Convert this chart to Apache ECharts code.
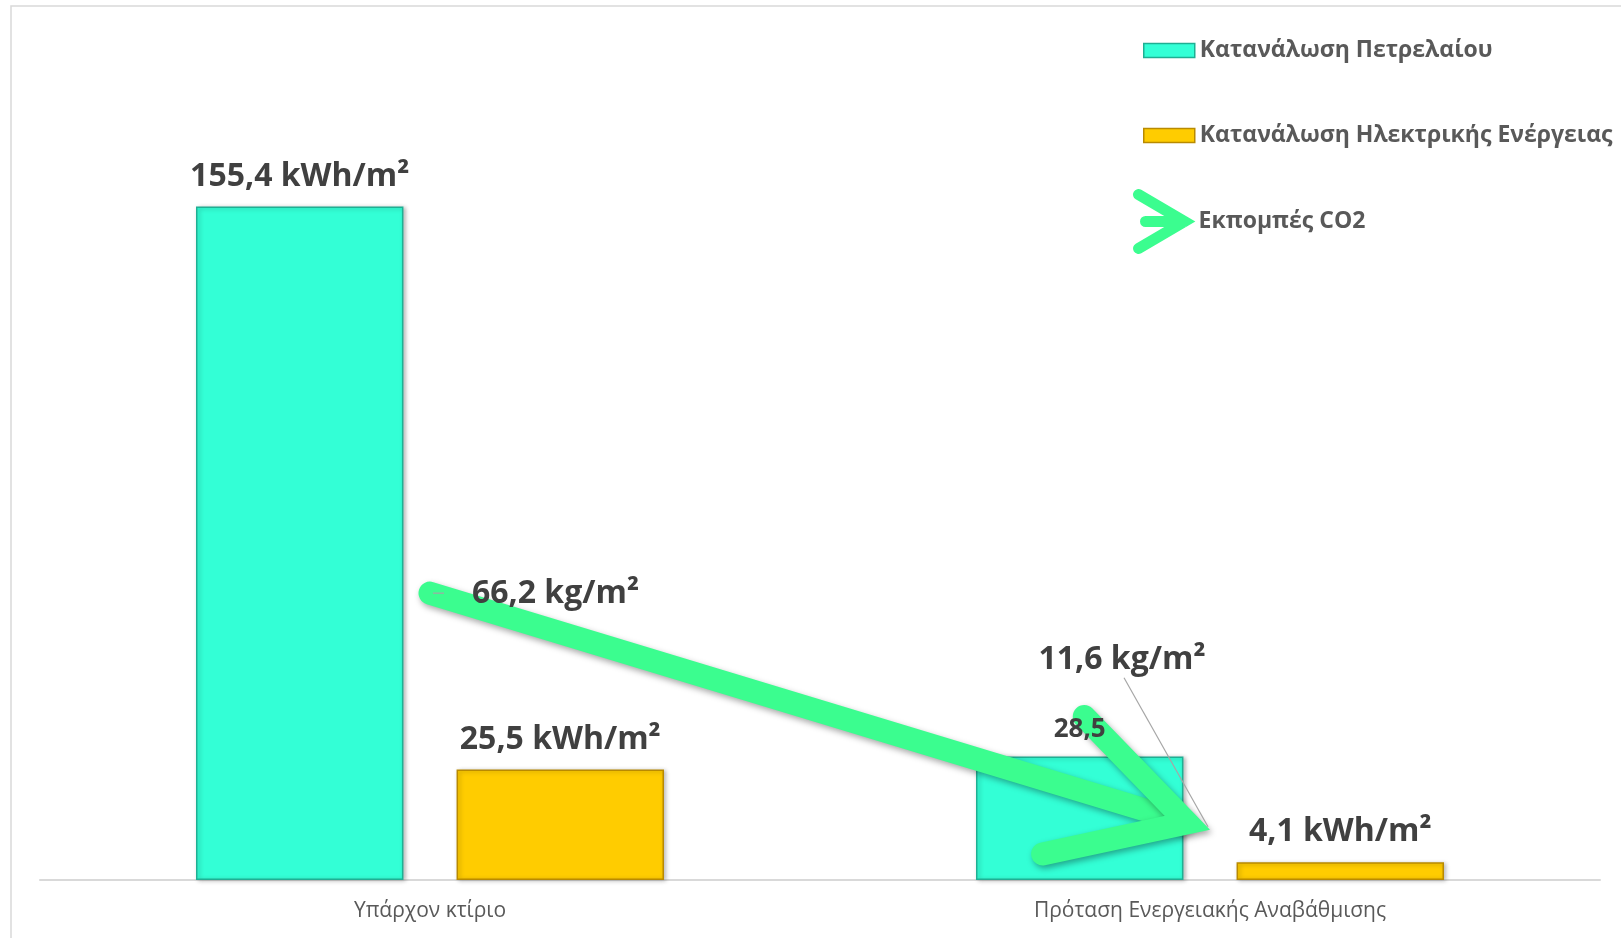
<!DOCTYPE html>
<html>
<head>
<meta charset="utf-8">
<script src="https://cdn.jsdelivr.net/npm/echarts@6/dist/echarts.min.js"></script>
<style>
  html, body { margin: 0; padding: 0; background: #ffffff; }
  #chart { width: 1621px; height: 938px; }
</style>
</head>
<body>
<div id="chart"></div>
<script>
// Energy consumption per m² and CO2 emissions: existing building vs. upgrade proposal
const categories = ['Υπάρχον κτίριο', 'Πρόταση Ενεργειακής Αναβάθμισης'];
const oilValues = [155.4, 28.5];        // kWh/m²
const electricValues = [25.5, 4.1];     // kWh/m²
const co2Values = [66.2, 11.6];         // kg/m²
const seriesNames = ['Κατανάλωση Πετρελαίου', 'Κατανάλωση Ηλεκτρικής Ενέργειας', 'Εκπομπές CO2'];

const FONT = '"Open Sans", "DejaVu Sans", sans-serif';
const TEAL = '#33FFD6';
const YELLOW = '#FFCC00';
const GREEN = '#3BFD8F';
const LABEL_COLOR = '#404040';
const TEXT_COLOR = '#595959';

const fmt = v => v.toFixed(1).replace('.', ',');

const bigLabel = {
  show: true,
  position: 'top',
  distance: 14,
  fontFamily: FONT,
  fontSize: 32,
  fontWeight: 'bold',
  color: LABEL_COLOR
};

const oilData = oilValues.map((v, i) => i === 0
  ? { value: v }
  : { value: v, label: { fontSize: 26, distance: 14, formatter: () => fmt(v) } });

// Arrow geometry for the emissions trend
const ARROW_WIDTH = 23;
const HEAD_HALF_ANGLE = 29 * Math.PI / 180;
const HEAD_LENGTH = 148;

function renderCo2(params, api) {
  const i = params.dataIndex;
  const p = api.coord([api.value(0), api.value(1)]);
  const textStyle = {
    fontFamily: FONT, fontSize: 32, fontWeight: 'bold', fill: LABEL_COLOR,
    verticalAlign: 'middle'
  };
  const children = [];
  if (i === 0) {
    children.push({
      type: 'line', z2: 20,
      shape: { x1: p[0] + 3, y1: p[1], x2: p[0] + 14, y2: p[1] },
      style: { stroke: '#a6a6a6', lineWidth: 1.2 }
    });
    children.push({
      type: 'text', z2: 30, x: p[0] + 42, y: p[1] + 1,
      style: Object.assign({ text: fmt(co2Values[i]) + ' kg/m²', align: 'left' }, textStyle)
    });
  } else {
    const from = api.coord([i - 1, co2Values[i - 1]]);
    const dx = p[0] - from[0], dy = p[1] - from[1];
    const len = Math.sqrt(dx * dx + dy * dy);
    const ux = dx / len, uy = dy / len;
    // apex of the mitred head sits on the data point
    const back = (ARROW_WIDTH / 2) / Math.sin(HEAD_HALF_ANGLE);
    const vx = p[0] - ux * back, vy = p[1] - uy * back;
    const baseAng = Math.atan2(-uy, -ux);
    const arm = a => [vx + HEAD_LENGTH * Math.cos(baseAng + a), vy + HEAD_LENGTH * Math.sin(baseAng + a)];
    const shadow = { shadowBlur: 6, shadowColor: 'rgba(0,0,0,0.35)', shadowOffsetX: 2, shadowOffsetY: 3 };
    children.push({
      type: 'polyline', z2: 1,
      shape: { points: [from, [vx - ux * 6, vy - uy * 6]] },
      style: Object.assign({ stroke: GREEN, lineWidth: ARROW_WIDTH, lineCap: 'round', fill: null }, shadow)
    });
    children.push({
      type: 'polyline', z2: 1,
      shape: { points: [arm(HEAD_HALF_ANGLE), [vx, vy], arm(-HEAD_HALF_ANGLE)] },
      style: Object.assign({ stroke: GREEN, lineWidth: ARROW_WIDTH, lineCap: 'round', lineJoin: 'miter', miterLimit: 10, fill: null }, shadow)
    });
    const lx = p[0] - 88, ly = p[1] - 170;
    children.push({
      type: 'line', z2: 20,
      shape: { x1: lx + 2, y1: ly + 18, x2: p[0] - 2, y2: p[1] - 3 },
      style: { stroke: '#a6a6a6', lineWidth: 1.2 }
    });
    children.push({
      type: 'text', z2: 30, x: lx, y: ly,
      style: Object.assign({ text: fmt(co2Values[i]) + ' kg/m²', align: 'center' }, textStyle)
    });
  }
  return { type: 'group', children };
}

const legendText = { fontFamily: FONT, fontSize: 23, fontWeight: 'bold', color: TEXT_COLOR };

const option = {
  backgroundColor: '#ffffff',
  animation: false,
  graphic: [{
    type: 'rect', silent: true, z: -10,
    shape: { x: 11, y: 6, width: 1700, height: 1000 },
    style: { fill: '#ffffff', stroke: '#d9d9d9', lineWidth: 1.5 }
  }],
  legend: [
    {
      left: 1143, top: 39, padding: 0, itemWidth: 51, itemHeight: 14,
      selectedMode: false, textStyle: legendText,
      data: [{ name: seriesNames[0], icon: 'rect', itemStyle: { color: TEAL, borderColor: '#1FAF93', borderWidth: 1.5 } }]
    },
    {
      left: 1143, top: 124, padding: 0, itemWidth: 51, itemHeight: 14,
      selectedMode: false, textStyle: legendText,
      data: [{ name: seriesNames[1], icon: 'rect', itemStyle: { color: YELLOW, borderColor: '#B98A00', borderWidth: 1.5 } }]
    },
    {
      left: 1133, top: 189, padding: 0, itemWidth: 46, itemHeight: 54,
      selectedMode: false,
      textStyle: Object.assign({ padding: [0, 0, 0, 9] }, legendText),
      data: [{
        name: seriesNames[2],
        icon: 'path://M0,0L46,27L0,54M7,27L46,27',
        itemStyle: { color: 'rgba(0,0,0,0)', borderColor: GREEN, borderWidth: 11, borderCap: 'round', borderJoin: 'miter' }
      }]
    }
  ],
  grid: { left: 40, right: 21, top: 100, bottom: 58, containLabel: false },
  xAxis: {
    type: 'category',
    data: categories,
    axisLine: { show: true, lineStyle: { color: '#d9d9d9', width: 2 } },
    axisTick: { show: false },
    axisLabel: { fontFamily: FONT, fontSize: 21, color: TEXT_COLOR, margin: 21 }
  },
  yAxis: {
    type: 'value', min: 0, max: 180, show: false,
    splitLine: { show: false }
  },
  series: [
    {
      name: seriesNames[0],
      type: 'bar',
      data: oilData,
      barGap: '25.6%',
      barCategoryGap: '40%',
      itemStyle: {
        color: TEAL, borderColor: '#1FAF93', borderWidth: 1.5,
        shadowBlur: 4, shadowColor: 'rgba(0,0,0,0.25)', shadowOffsetX: 2, shadowOffsetY: 1
      },
      label: Object.assign({}, bigLabel, { formatter: p => fmt(p.value) + ' kWh/m²' })
    },
    {
      name: seriesNames[1],
      type: 'bar',
      data: electricValues,
      itemStyle: {
        color: YELLOW, borderColor: '#B98A00', borderWidth: 1.5,
        shadowBlur: 4, shadowColor: 'rgba(0,0,0,0.25)', shadowOffsetX: 2, shadowOffsetY: 1
      },
      label: Object.assign({}, bigLabel, { formatter: p => fmt(p.value) + ' kWh/m²' })
    },
    {
      name: seriesNames[2],
      type: 'custom',
      data: co2Values.map((v, i) => [i, v]),
      encode: { x: 0, y: 1 },
      renderItem: renderCo2,
      z: 2
    }
  ]
};

const chart = echarts.init(document.getElementById('chart'), null, { renderer: 'canvas' });
chart.setOption(option);
</script>
</body>
</html>
